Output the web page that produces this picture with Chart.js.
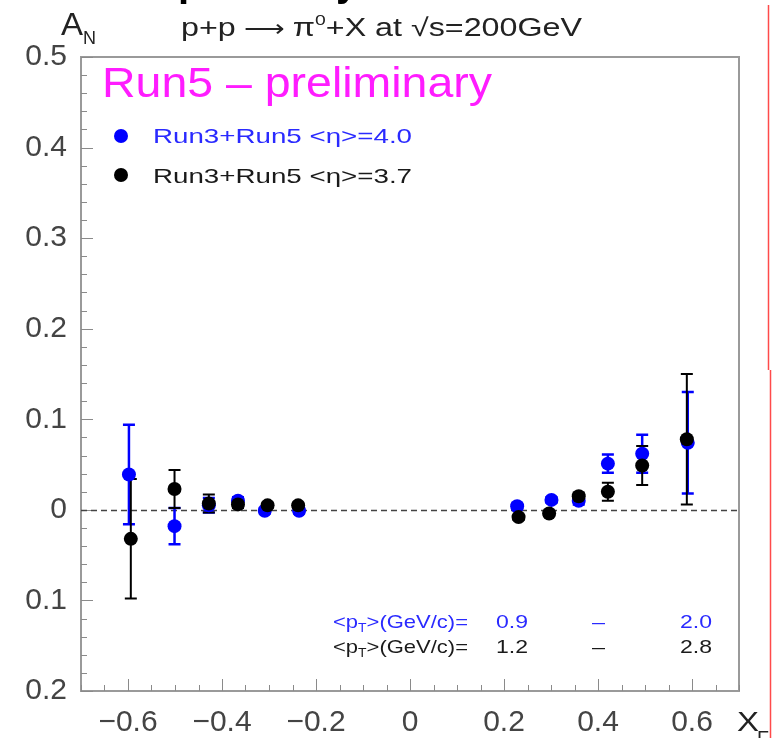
<!DOCTYPE html>
<html>
<head>
<meta charset="utf-8">
<script src="https://cdn.jsdelivr.net/npm/chart.js@4.4.1/dist/chart.umd.min.js"></script>
<style>
html,body{margin:0;padding:0;background:#fff;}
canvas{display:block;}
</style>
</head>
<body>
<canvas id="c" width="780" height="738"></canvas>
<script>
// ---- data ----
const xBlue  = [-0.598,-0.501,-0.428,-0.366,-0.309,-0.236, 0.228, 0.301, 0.359, 0.421, 0.494, 0.591];
const yBlue  = [ 0.039,-0.018, 0.005, 0.010,-0.001,-0.001, 0.004, 0.011, 0.010, 0.051, 0.062, 0.074];
const eBlue  = [ 0.055, 0.020, 0.008, 0.004, 0.003, 0.003, 0.003, 0.003, 0.004, 0.010, 0.021, 0.056];
const xBlack = [-0.594,-0.501,-0.428,-0.366,-0.303,-0.238, 0.231, 0.296, 0.359, 0.421, 0.494, 0.589];
const yBlack = [-0.032, 0.023, 0.007, 0.006, 0.005, 0.005,-0.008,-0.004, 0.015, 0.020, 0.049, 0.078];
const eBlack = [ 0.066, 0.021, 0.010, 0.004, 0.003, 0.003, 0.003, 0.003, 0.004, 0.010, 0.0215,0.072];

const xTickValues = [-0.6,-0.4,-0.2,0,0.2,0.4,0.6];
const xTickLabels = ['\u22120.6','\u22120.4','\u22120.2','0','0.2','0.4','0.6'];
const yTickValues = [-0.2,-0.1,0,0.1,0.2,0.3,0.4,0.5];
const yTickLabels = ['0.2','0.1','0','0.1','0.2','0.3','0.4','0.5'];

const seriesNames = ['Run3+Run5 <\u03B7>=4.0','Run3+Run5 <\u03B7>=3.7'];
const ptBlue  = ['0.9','\u2013','2.0'];
const ptBlack = ['1.2','\u2013','2.8'];

const BLUE = '#0000ff', BLUE_TXT = '#2a2aff', BLACK = '#000000';
const FONT = '"Liberation Sans", Arial, sans-serif';

function pts(xs, ys){ return xs.map((x,i)=>({x:x, y:ys[i]})); }

function fitText(ctx, text, x, y, size, color, targetW, align){
  ctx.save();
  ctx.font = size + 'px ' + FONT;
  ctx.fillStyle = color;
  ctx.textBaseline = 'alphabetic';
  const w = ctx.measureText(text).width;
  const s = targetW ? targetW / w : 1;
  let x0 = x;
  if (align === 'right') x0 = x - w * s;
  ctx.translate(x0, y);
  ctx.scale(s, 1);
  ctx.fillText(text, 0, 0);
  ctx.restore();
}

// draw a sequence of segments (text, size, dy) scaled to a target width
function richText(ctx, segs, x, y, color, targetW, align){
  ctx.save();
  ctx.fillStyle = color;
  ctx.textBaseline = 'alphabetic';
  let total = 0;
  segs.forEach(s=>{ ctx.font = s.size + 'px ' + FONT; s.w = ctx.measureText(s.t).width; total += s.w; });
  const k = targetW ? targetW / total : 1;
  let x0 = align === 'right' ? x - total * k : x;
  ctx.translate(x0, y);
  ctx.scale(k, 1);
  let cx = 0;
  segs.forEach(s=>{ ctx.font = s.size + 'px ' + FONT; ctx.fillText(s.t, cx, s.dy || 0); cx += s.w; });
  ctx.restore();
}

const decor = {
  id: 'decor',
  beforeDatasetsDraw(chart){
    const ctx = chart.ctx, a = chart.chartArea;
    const xs = chart.scales.x, ys = chart.scales.y;
    ctx.save();
    // frame
    ctx.strokeStyle = '#9a9a9a';
    ctx.lineWidth = 2;
    ctx.strokeRect(a.left, a.top, a.right - a.left, a.bottom - a.top);
    // y ticks (inside, left)
    ctx.strokeStyle = '#8a8a8a';
    ctx.lineWidth = 1;
    for (let k = -10; k <= 25; k++){
      const v = k * 0.02;
      if (v < ys.min - 1e-9 || v > ys.max + 1e-9) continue;
      const py = Math.round(ys.getPixelForValue(v)) + 0.5;
      const len = (k % 5 === 0) ? 12 : 6;
      ctx.beginPath(); ctx.moveTo(a.left, py); ctx.lineTo(a.left + len, py); ctx.stroke();
    }
    // x ticks (inside, bottom)
    for (let k = -14; k <= 14; k++){
      const v = k * 0.05;
      if (v < xs.min - 1e-9 || v > xs.max + 1e-9) continue;
      const px = Math.round(xs.getPixelForValue(v)) + 0.5;
      const len = (k % 4 === 0) ? 12 : 6;
      ctx.beginPath(); ctx.moveTo(px, a.bottom); ctx.lineTo(px, a.bottom - len); ctx.stroke();
    }
    // dashed zero line
    const y0 = Math.round(ys.getPixelForValue(0)) + 0.5;
    ctx.strokeStyle = '#444';
    ctx.lineWidth = 1.3;
    ctx.setLineDash([6,4]);
    ctx.beginPath(); ctx.moveTo(a.left, y0); ctx.lineTo(a.right, y0); ctx.stroke();
    ctx.setLineDash([]);
    // error bars
    function bars(xv, yv, ev, color, lw){
      ctx.strokeStyle = color; ctx.lineWidth = lw;
      xv.forEach((x,i)=>{
        const px = xs.getPixelForValue(x);
        const pt = ys.getPixelForValue(yv[i] + ev[i]);
        const pb = ys.getPixelForValue(yv[i] - ev[i]);
        ctx.beginPath();
        ctx.moveTo(px, pt); ctx.lineTo(px, pb);
        ctx.moveTo(px - 6, pt); ctx.lineTo(px + 6, pt);
        ctx.moveTo(px - 6, pb); ctx.lineTo(px + 6, pb);
        ctx.stroke();
      });
    }
    bars(xBlue, yBlue, eBlue, BLUE, 2.5);
    bars(xBlack, yBlack, eBlack, BLACK, 2);
    ctx.restore();
  },
  afterDraw(chart){
    const ctx = chart.ctx;
    ctx.save();
    // cut-off bold heading remnants at very top
    ctx.fillStyle = '#000';
    ctx.font = 'bold 40px ' + FONT;
    ctx.textBaseline = 'alphabetic';
    ctx.fillText('p', 178, -4);
    ctx.fillText('y', 336, -4);
    // A_N
    fitText(ctx, 'A', 61, 35, 32, '#222', 22);
    fitText(ctx, 'N', 83, 44, 18, '#222', 13);
    // title
    richText(ctx, [
      {t:'p+p', size:25}, {t:' \u27F6 ', size:22}, {t:'\u03C0', size:25},
      {t:'0', size:15, dy:-11}, {t:'+X at \u221As=200GeV', size:25}
    ], 181, 36, '#222', 401);
    // Run5 - preliminary
    fitText(ctx, 'Run5 \u2013 preliminary', 102, 97, 42, '#ff1cff', 390);
    // legend
    ctx.fillStyle = BLUE;
    ctx.beginPath(); ctx.arc(121, 136, 7, 0, Math.PI*2); ctx.fill();
    ctx.fillStyle = BLACK;
    ctx.beginPath(); ctx.arc(121, 175, 7, 0, Math.PI*2); ctx.fill();
    fitText(ctx, seriesNames[0], 153, 143, 21, BLUE_TXT, 259);
    fitText(ctx, seriesNames[1], 153, 183, 21, '#1a1a1a', 259);
    // <pT> rows
    const ptLabel = [{t:'<p', size:19}, {t:'T', size:12, dy:4}, {t:'>(GeV/c)=', size:19}];
    richText(ctx, ptLabel.map(s=>Object.assign({}, s)), 468, 628, BLUE_TXT, 135, 'right');
    richText(ctx, ptLabel.map(s=>Object.assign({}, s)), 468, 653, '#1a1a1a', 135, 'right');
    const cols = [496, 592, 680];
    ptBlue.forEach((t,i)=> fitText(ctx, t, cols[i], 628, 19, BLUE_TXT, i===1?13:32));
    ptBlack.forEach((t,i)=> fitText(ctx, t, cols[i], 653, 19, '#1a1a1a', i===1?13:32));
    // x-axis title X_F
    fitText(ctx, 'X', 737, 731, 27, '#222', 22);
    fitText(ctx, 'F', 757, 744, 18, '#222', 12);
    // red edge line
    ctx.strokeStyle = '#ff4a4a';
    ctx.lineWidth = 1.5;
    ctx.beginPath(); ctx.moveTo(768.5, 5); ctx.lineTo(768.5, 370); ctx.stroke();
    ctx.beginPath(); ctx.moveTo(770.5, 370); ctx.lineTo(770.5, 738); ctx.stroke();
    ctx.restore();
  }
};

new Chart(document.getElementById('c'), {
  type: 'scatter',
  data: {
    datasets: [
      { label: seriesNames[1], data: pts(xBlack, yBlack), backgroundColor: BLACK, borderWidth: 0, pointRadius: 7, pointHoverRadius: 7 },
      { label: seriesNames[0], data: pts(xBlue, yBlue), backgroundColor: BLUE, borderWidth: 0, pointRadius: 7, pointHoverRadius: 7 }
    ]
  },
  options: {
    responsive: false,
    animation: false,
    events: [],
    layout: { padding: { top: 57, right: 41, left: 0, bottom: 0 } },
    plugins: { legend: { display: false }, tooltip: { enabled: false }, title: { display: false } },
    scales: {
      x: {
        type: 'linear', min: -0.7, max: 0.7,
        grid: { display: false, drawTicks: false }, border: { display: false },
        afterBuildTicks: s => { s.ticks = xTickValues.map(v => ({ value: v })); },
        afterFit: s => { s.height = 47; },
        ticks: { autoSkip: false, maxRotation: 0, padding: 14, color: '#444',
                 font: { family: FONT, size: 30 },
                 callback: (v, i) => xTickLabels[i] }
      },
      y: {
        type: 'linear', min: -0.2, max: 0.5,
        grid: { display: false, drawTicks: false }, border: { display: false },
        afterBuildTicks: s => { s.ticks = yTickValues.map(v => ({ value: v })); },
        afterFit: s => { s.width = 81; },
        ticks: { autoSkip: false, padding: 14, color: '#444',
                 font: { family: FONT, size: 30 },
                 callback: (v, i) => yTickLabels[i] }
      }
    }
  },
  plugins: [decor]
});
</script>
</body>
</html>
